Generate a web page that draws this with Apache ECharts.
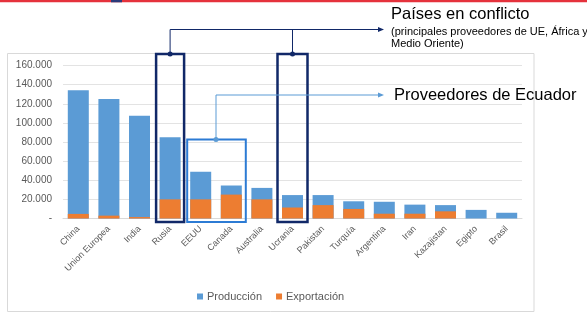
<!DOCTYPE html>
<html>
<head>
<meta charset="utf-8">
<script src="https://cdn.jsdelivr.net/npm/echarts@6/dist/echarts.min.js"></script>
<style>
  html, body { margin: 0; padding: 0; background: #fff; }
  #chart { width: 587px; height: 313px; }
</style>
</head>
<body>
<div id="chart"></div>
<script>
// paises (eje x)
var paises = ['China', 'Union Europea', 'India', 'Rusia', 'EEUU', 'Canada', 'Australia', 'Ucrania',
  'Pakistan', 'Turquía', 'Argentina', 'Iran', 'Kazajistan', 'Egipto', 'Brasil'];
// produccion y exportacion (miles de t)
var produccion = [134000, 125000, 107500, 85000, 49000, 34500, 32000, 24500, 24500, 18000, 17500, 14500, 14000, 9000, 6000];
var exportacion = [4800, 3000, 1500, 20000, 20000, 25000, 20000, 11500, 14000, 10000, 5000, 5000, 7500, 0, 0];
var ticks_y = [0, 20000, 40000, 60000, 80000, 100000, 120000, 140000, 160000];

var col_prod = '#5b9bd5';
var col_exp = '#ed7d31';
var navy = '#112868';
var azul = '#2c7bd4';
var azul_linea = '#5b9bd5';

function fmt_miles(v) {
  if (v === 0) return '-';
  return String(v).replace(/\B(?=(\d{3})+(?!\d))/g, '.');
}

var myChart = echarts.init(document.getElementById('chart'), null, { renderer: 'canvas' });

var option = {
  animation: false,
  textStyle: { fontFamily: 'Liberation Sans, Arial, sans-serif' },
  grid: { left: 63, right: 65, top: 65.5, height: 153, containLabel: false },
  legend: {
    data: ['Producción', 'Exportación'],
    left: 192, top: 286,
    icon: 'rect', itemWidth: 6, itemHeight: 6, itemGap: 14,
    textStyle: { color: '#595959', fontSize: 11, padding: [0, 0, 0, -1] }
  },
  xAxis: {
    type: 'category',
    data: paises,
    axisLine: { show: true, lineStyle: { color: '#d9d9d9' } },
    axisTick: { show: false },
    axisLabel: { rotate: 45, color: '#595959', fontSize: 9, margin: 9, interval: 0 }
  },
  yAxis: {
    type: 'value',
    min: ticks_y[0], max: ticks_y[ticks_y.length - 1], interval: 20000,
    axisLine: { show: false },
    axisTick: { show: false },
    splitLine: { lineStyle: { color: '#e3e3e3' } },
    axisLabel: { color: '#595959', fontSize: 10, margin: 11, formatter: fmt_miles }
  },
  series: [
    {
      name: 'Producción', type: 'bar', data: produccion,
      barWidth: 21, barGap: '-100%',
      itemStyle: { color: col_prod }
    },
    {
      name: 'Exportación', type: 'bar', data: exportacion,
      barWidth: 21, barGap: '-100%',
      itemStyle: { color: col_exp }
    }
  ]
};
myChart.setOption(option);

// anotaciones: cajas alrededor de paises, posicion x tomada de la escala
function cx(nombre) {
  return myChart.convertToPixel({ xAxisIndex: 0 }, nombre);
}
function flecha(x, y, color) {
  return { type: 'polygon', shape: { points: [[x, y], [x - 6, y - 2.5], [x - 6, y + 2.5]] }, style: { fill: color }, z: 20 };
}

var x_rusia = cx('Rusia'), x_ucr = cx('Ucrania'), x_eeuu = cx('EEUU'), x_can = cx('Canada');
var y_fin = 222, y_top_navy = 54, y_top_azul = 139.5;
var y_linea1 = 29.5, y_linea2 = 95;
var font_txt = 'Liberation Sans, Arial, sans-serif';

var graficos = [
  // linea roja superior
  { type: 'rect', shape: { x: 0, y: 0, width: 587, height: 2.3 }, style: { fill: '#e5323c' }, z: 20 },
  { type: 'rect', shape: { x: 111, y: 0, width: 11, height: 2.3 }, style: { fill: '#2b3a7a' }, z: 21 },
  // marco del grafico
  { type: 'rect', shape: { x: 7.5, y: 53.5, width: 526.5, height: 258 }, style: { fill: null, stroke: '#d9d9d9', lineWidth: 1 }, z: -1 },
  // cajas
  { type: 'rect', shape: { x: x_rusia - 14, y: y_top_navy, width: 28, height: y_fin - y_top_navy }, style: { fill: null, stroke: navy, lineWidth: 2.5 }, z: 15 },
  { type: 'rect', shape: { x: x_ucr - 15, y: y_top_navy, width: 30, height: y_fin - y_top_navy }, style: { fill: null, stroke: navy, lineWidth: 2.5 }, z: 15 },
  { type: 'rect', shape: { x: x_eeuu - 13.5, y: y_top_azul, width: (x_can + 14.5) - (x_eeuu - 13.5), height: y_fin - y_top_azul }, style: { fill: null, stroke: azul, lineWidth: 2 }, z: 15 },
  // conectores paises en conflicto
  { type: 'polyline', shape: { points: [[x_rusia, y_top_navy], [x_rusia, y_linea1], [381, y_linea1]] }, style: { stroke: navy, lineWidth: 1, fill: null }, z: 16 },
  { type: 'polyline', shape: { points: [[x_ucr, y_linea1], [x_ucr, y_top_navy]] }, style: { stroke: navy, lineWidth: 1, fill: null }, z: 16 },
  { type: 'circle', shape: { cx: x_rusia, cy: y_top_navy, r: 2.5 }, style: { fill: navy }, z: 17 },
  { type: 'circle', shape: { cx: x_ucr, cy: y_top_navy, r: 2.5 }, style: { fill: navy }, z: 17 },
  flecha(384, y_linea1, navy),
  // conector proveedores de Ecuador
  { type: 'polyline', shape: { points: [[(x_eeuu + x_can) / 2, y_top_azul], [(x_eeuu + x_can) / 2, y_linea2], [381, y_linea2]] }, style: { stroke: azul_linea, lineWidth: 1, fill: null }, z: 16 },
  { type: 'circle', shape: { cx: (x_eeuu + x_can) / 2, cy: y_top_azul, r: 2.5 }, style: { fill: azul_linea }, z: 17 },
  flecha(384, y_linea2, azul_linea),
  // textos
  { type: 'text', x: 391, y: 14.5, style: { text: 'Países en conflicto', font: '16.5px ' + font_txt, fill: '#000', verticalAlign: 'middle' }, z: 20 },
  { type: 'text', x: 391, y: 31.5, style: { text: '(principales proveedores de UE, África y', font: '11px ' + font_txt, fill: '#000', verticalAlign: 'middle' }, z: 20 },
  { type: 'text', x: 391, y: 44, style: { text: 'Medio Oriente)', font: '11px ' + font_txt, fill: '#000', verticalAlign: 'middle' }, z: 20 },
  { type: 'text', x: 394, y: 95.5, style: { text: 'Proveedores de Ecuador', font: '16.5px ' + font_txt, fill: '#000', verticalAlign: 'middle' }, z: 20 }
];
myChart.setOption({ graphic: graficos });
</script>
</body>
</html>
